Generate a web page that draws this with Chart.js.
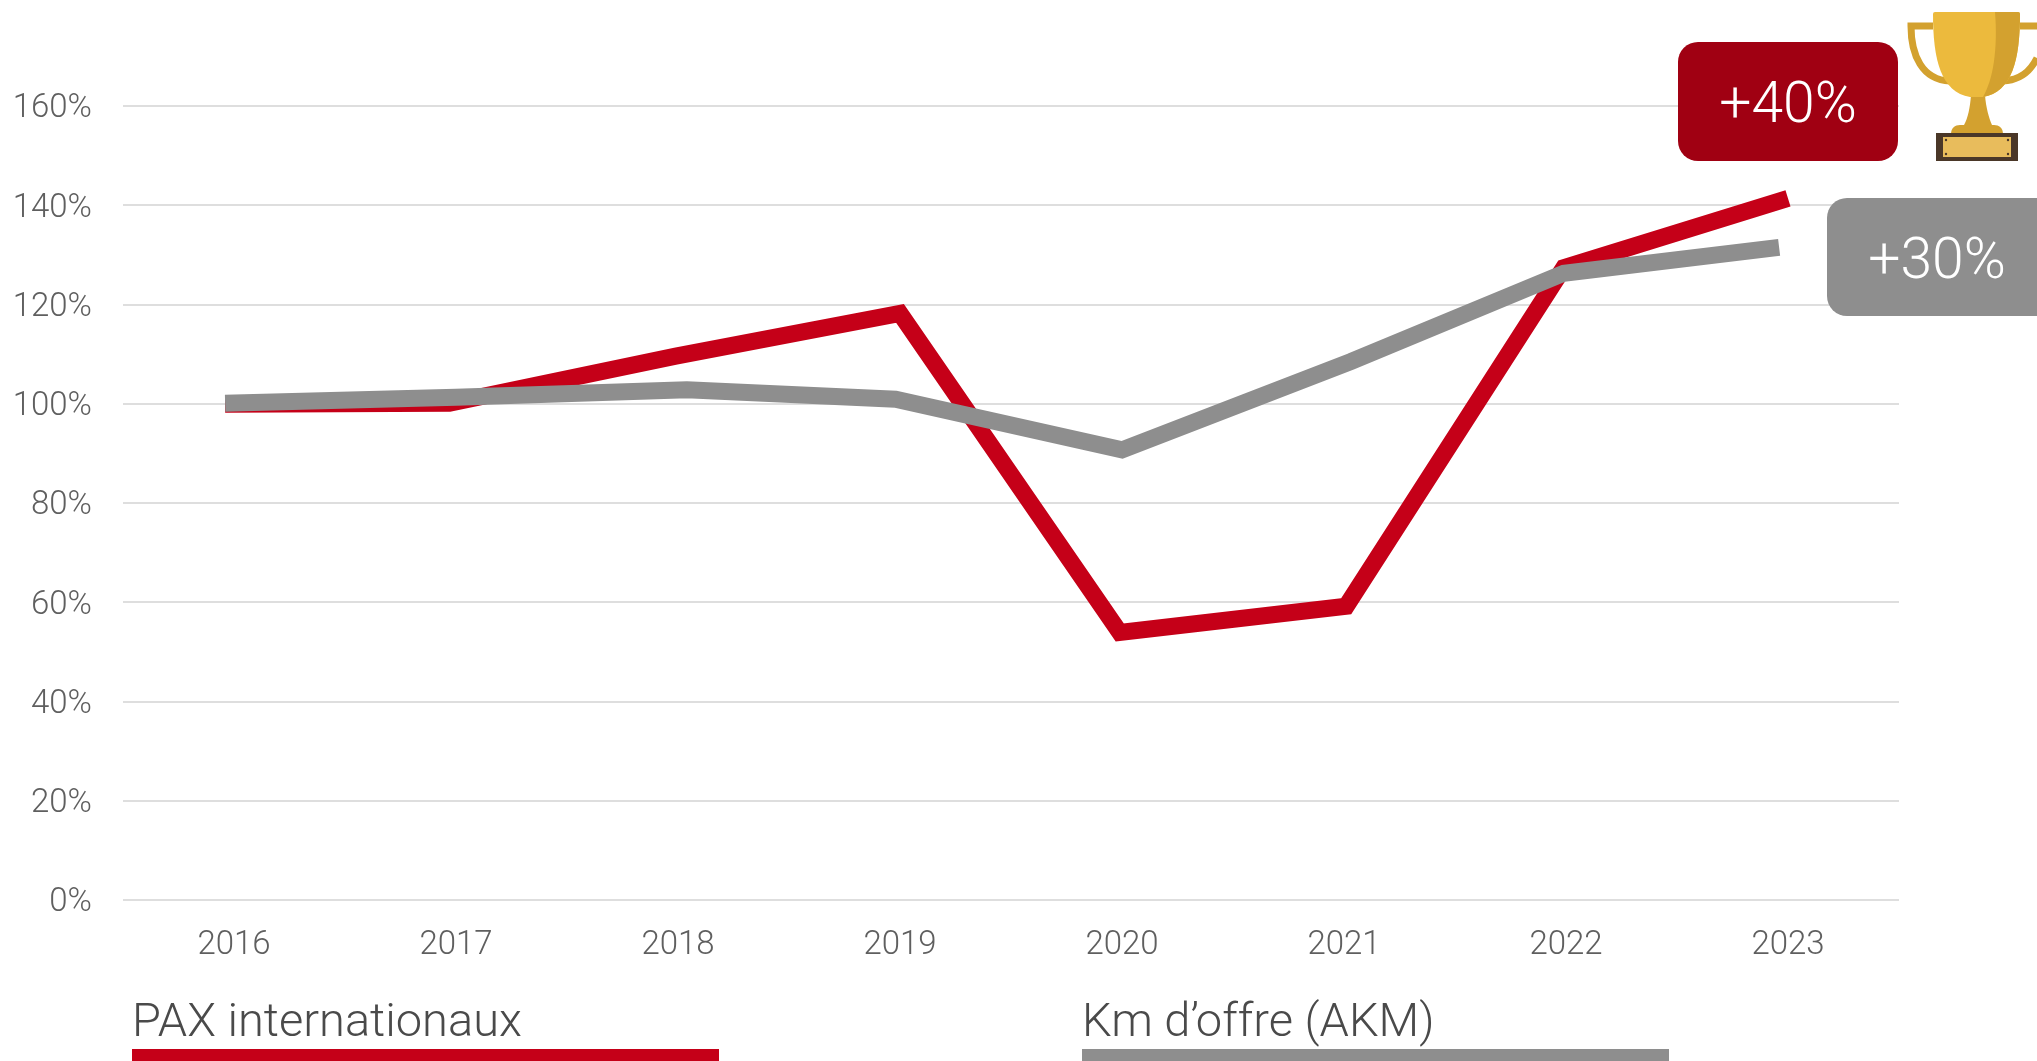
<!DOCTYPE html>
<html lang="fr">
<head>
<meta charset="utf-8">
<title>PAX internationaux / Km d'offre</title>
<script src="https://cdn.jsdelivr.net/npm/chart.js@4"></script>
<style>
    html, body { margin: 0; padding: 0; background: #fff; overflow: hidden; }
    #wrap { position: relative; width: 2037px; height: 1061px; }
    #chart { position: absolute; left: 0; top: 0; }
    #trophy { position: absolute; left: 0; top: 0; pointer-events: none; }
</style>
</head>
<body>
<div id="wrap">
    <canvas id="chart" width="2037" height="1061"></canvas>
    <!-- trophy icon, page coordinates -->
    <svg id="trophy" width="2037" height="1061" viewBox="0 0 2037 1061">
        <path d="M1933 26 H1911 C1911 55 1922 80 1950 81" fill="none" stroke="#d3a12f" stroke-width="7"/>
        <path d="M2020 26 H2040 M2037 58 C2030 72 2020 80 2003 81" fill="none" stroke="#d3a12f" stroke-width="7"/>
        <path d="M1971 95 H1985 C1986 108 1989 118 1992 125 H1964 C1968 118 1970 108 1971 95 Z" fill="#d3a12f"/>
        <path d="M1951 134 C1951 128 1955 125 1960 125 H1994 C1999 125 2003 128 2003 134 Z" fill="#d3a12f"/>
        <path d="M1933 14 Q1933 12 1935 12 H2018 Q2020 12 2020 14 C2020 60 2012 92 1983 97 H1970 C1941 92 1933 60 1933 14 Z" fill="#ecba3d"/>
        <path d="M1995 12 H2018 Q2020 12 2020 14 C2020 60 2012 92 1983 97 C1993 80 1998 50 1995 12 Z" fill="#d3a12f"/>
        <rect x="1936" y="133" width="82" height="28" fill="#4a3728"/>
        <rect x="1943" y="137" width="68" height="20" fill="#e8bc5c"/>
        <circle cx="1946" cy="140" r="1.2" fill="#4a3728"/>
        <circle cx="2008" cy="140" r="1.2" fill="#4a3728"/>
        <circle cx="1946" cy="154" r="1.2" fill="#4a3728"/>
        <circle cx="2008" cy="154" r="1.2" fill="#4a3728"/>
    </svg>
</div>
<script>
// 축 눈금
const years = [2016, 2017, 2018, 2019, 2020, 2021, 2022, 2023];
const yTicks = [0, 20, 40, 60, 80, 100, 120, 140, 160];

// series (the drawn lines sit a little off the year ticks)
const paxX = [2015.96, 2016.97, 2017.99, 2019.0, 2019.99, 2021.01, 2021.99, 2023.0];
const paxValues = [99.9, 100.1, 109.6, 118.2, 53.9, 59.2, 127.4, 141.4];
const akmX = [2015.96, 2017.0, 2018.04, 2018.98, 2020.0, 2021.03, 2021.99, 2022.96];
const akmValues = [100.1, 101.3, 102.8, 100.9, 90.7, 108.5, 126.3, 131.5];

const paxLabel = 'PAX internationaux';
const akmLabel = 'Km d\u2019offre (AKM)';
const paxBadge = '+40%';
const akmBadge = '+30%';

const RED = '#c50018';
const GREY = '#8e8e8e';
const FONT = 'Roboto, "Liberation Sans", sans-serif';

function toPoints(xs, ys) {
    return xs.map((x, i) => ({ x: x, y: ys[i] }));
}

function drawBadge(ctx, x, y, w, h, text, color, cx, cy) {
    ctx.fillStyle = color;
    ctx.beginPath();
    ctx.roundRect(x, y, w, h, 20);
    ctx.fill();
    ctx.fillStyle = '#fff';
    ctx.font = '300 57px ' + FONT;
    ctx.textAlign = 'center';
    ctx.textBaseline = 'middle';
    ctx.fillText(text, cx, cy);
}

function drawLegendItem(ctx, x, label, color) {
    ctx.fillStyle = '#4a4a4a';
    ctx.font = '300 47px ' + FONT;
    ctx.textAlign = 'left';
    ctx.textBaseline = 'alphabetic';
    ctx.fillText(label, x, 1036);
    ctx.fillStyle = color;
    ctx.fillRect(x, 1049, 587, 12);
}

// badges and the legend under the chart
const annotations = {
    id: 'annotations',
    afterDraw(chart) {
        const ctx = chart.ctx;
        ctx.save();
        drawBadge(ctx, 1678, 42, 220, 119, paxBadge, '#a00012', 1788, 108);
        drawBadge(ctx, 1827, 198, 240, 118, akmBadge, GREY, 1937, 264);
        drawLegendItem(ctx, 132, paxLabel, RED);
        drawLegendItem(ctx, 1082, akmLabel, GREY);
        ctx.restore();
    }
};

new Chart(document.getElementById('chart').getContext('2d'), {
    type: 'line',
    data: {
        datasets: [
            {
                label: paxLabel,
                data: toPoints(paxX, paxValues),
                borderColor: RED,
                borderWidth: 17,
                order: 2
            },
            {
                label: akmLabel,
                data: toPoints(akmX, akmValues),
                borderColor: GREY,
                borderWidth: 17,
                order: 1
            }
        ]
    },
    options: {
        responsive: false,
        animation: false,
        layout: { padding: { top: 106, right: 138, left: 0, bottom: 0 } },
        elements: {
            point: { radius: 0 },
            line: { tension: 0, borderCapStyle: 'butt', borderJoinStyle: 'miter' }
        },
        plugins: { legend: { display: false }, tooltip: { enabled: false } },
        scales: {
            x: {
                type: 'linear',
                min: 2015.5,
                max: 2023.5,
                grid: { display: false },
                border: { display: false },
                afterBuildTicks: scale => { scale.ticks = years.map(v => ({ value: v })); },
                afterFit: scale => { scale.height = 161; },
                ticks: {
                    autoSkip: false,
                    maxRotation: 0,
                    padding: 18,
                    color: '#5f5f5f',
                    font: { family: FONT, size: 33, weight: '300' },
                    callback: value => String(value)
                }
            },
            y: {
                min: 0,
                max: 160,
                grid: { color: '#dedede', lineWidth: 2, drawTicks: false },
                border: { display: false },
                afterBuildTicks: scale => { scale.ticks = yTicks.map(v => ({ value: v })); },
                afterFit: scale => { scale.width = 123; },
                ticks: {
                    padding: 31,
                    labelOffset: 3,
                    color: '#5f5f5f',
                    font: { family: FONT, size: 33, weight: '300' },
                    callback: value => value + '%'
                }
            }
        }
    },
    plugins: [annotations]
});
</script>
</body>
</html>
